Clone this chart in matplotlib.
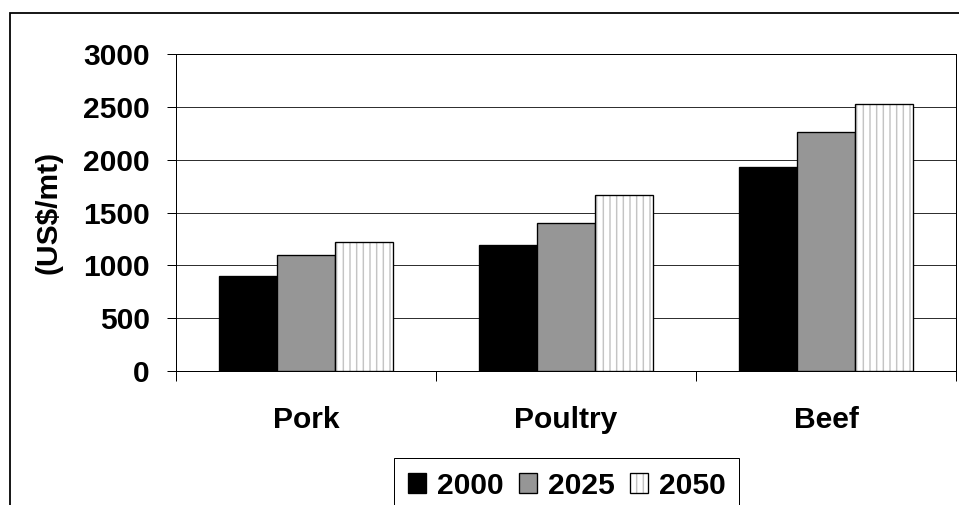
#!/usr/bin/env python3

# imports
import matplotlib
matplotlib.use('Agg')
import matplotlib.pyplot as plt
from matplotlib.patches import Rectangle
import numpy as np

# meat prices by year
products = ['Pork', 'Poultry', 'Beef']
years = ['2000', '2025', '2050']
price_2000 = [900, 1190, 1930]
price_2025 = [1100, 1400, 2260]
price_2050 = [1220, 1670, 2530]
yticks = [0, 500, 1000, 1500, 2000, 2500, 3000]

DPI = 80
FS = 27  # pt, same size for every label

plt.rcParams['font.family'] = ['Liberation Sans', 'DejaVu Sans']
plt.rcParams['font.weight'] = 'bold'
plt.rcParams['hatch.linewidth'] = 1.3

fig = plt.figure(figsize=(959 / DPI, 505 / DPI), dpi=DPI)
ax = fig.add_axes([176 / 959, 1 - 371 / 505, 780 / 959, 317 / 505])

x = np.arange(len(products))
w = 1 / 4.5  # excel style gap width of 150%
lw = 1.2

b0 = ax.bar(x - w, price_2000, w, color='black', edgecolor='black', linewidth=lw, zorder=3)
b1 = ax.bar(x, price_2025, w, color='#969696', edgecolor='black', linewidth=lw, zorder=3)
# striped bars: hatch layer first, then the black outline on top
b2f = ax.bar(x + w, price_2050, w, color='white', edgecolor='#c4c4c4', hatch='||', linewidth=0, zorder=3)
b2e = ax.bar(x + w, price_2050, w, fill=False, edgecolor='black', linewidth=lw, zorder=4)

ax.set_xlim(-0.5, 2.5)
ax.set_ylim(0, 3000)
ax.set_yticks(yticks)
ax.set_yticklabels([str(v) for v in yticks], fontsize=FS, fontweight='bold')
ax.set_xticks(x)
ax.set_xticklabels(products, fontsize=FS, fontweight='bold')
ax.set_xticks(np.arange(len(products) + 1) - 0.5, minor=True)

ax.tick_params(axis='y', direction='out', length=8.1, width=0.9, pad=15.3, color='black')
ax.tick_params(axis='x', which='major', length=0, pad=31.5)
ax.tick_params(axis='x', which='minor', direction='out', length=9, width=0.9, color='black')

ax.grid(axis='y', color='#303030', linewidth=0.9, zorder=0)
ax.set_axisbelow(True)
for s in ax.spines.values():
    s.set_color('black')
    s.set_linewidth(0.9)

ax.set_ylabel('(US$/mt)', fontsize=FS, fontweight='bold')
ax.yaxis.set_label_coords(-0.146, 0.5)

leg = fig.legend([b0, b1, (b2f, b2e)], years, ncol=3, loc='upper left',
                 bbox_to_anchor=(394 / 959, 1 - 458 / 505), bbox_transform=fig.transFigure,
                 borderaxespad=0, borderpad=0.45, handlelength=0.62, handleheight=0.62,
                 handletextpad=0.36, columnspacing=0.5, fancybox=False, shadow=False,
                 prop={'size': FS, 'weight': 'bold'})
leg.get_frame().set_edgecolor('black')
leg.get_frame().set_linewidth(0.9)
leg.get_frame().set_alpha(None)

# outer chart border, runs off the right and bottom edges
fig.add_artist(Rectangle((9.5 / 959, -0.2), 1.2, 1.2 - 13 / 505, transform=fig.transFigure,
                         fill=False, edgecolor='black', linewidth=1.6, clip_on=False))

plt.savefig('out.png', dpi=DPI)
